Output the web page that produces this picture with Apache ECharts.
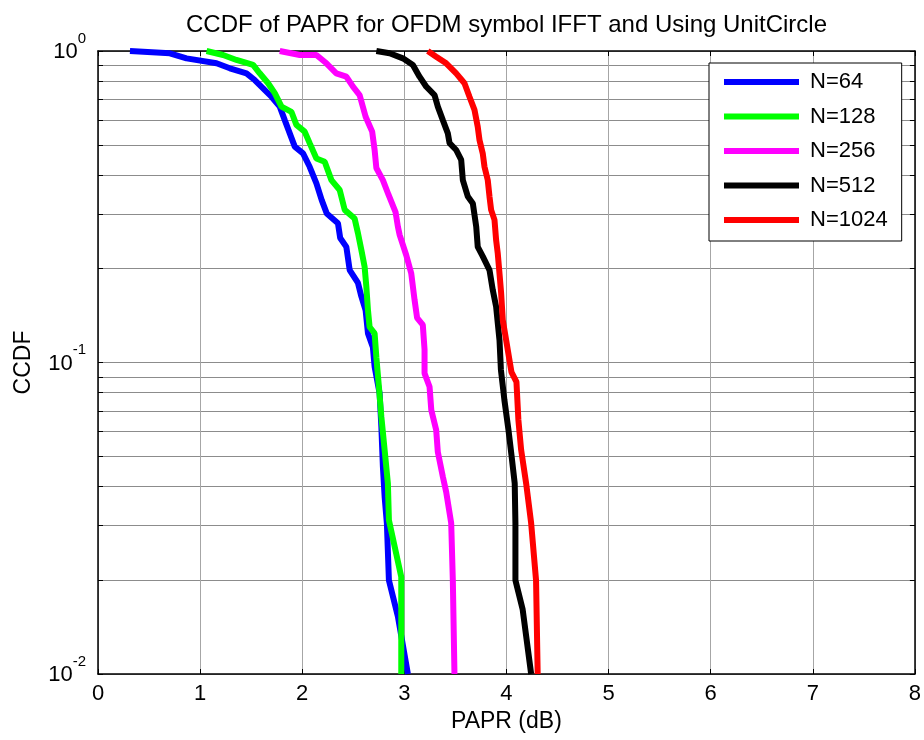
<!DOCTYPE html>
<html>
<head>
<meta charset="utf-8">
<script src="https://cdn.jsdelivr.net/npm/echarts@6/dist/echarts.min.js"></script>
<style>
html,body{margin:0;padding:0;background:#fff;}
#chart{width:924px;height:740px;}
</style>
</head>
<body>
<div id="chart"></div>
<script>
// ---- data ----
const titleText = 'CCDF of PAPR for OFDM symbol IFFT and Using UnitCircle';
const xAxisName = 'PAPR (dB)';
const yAxisName = 'CCDF';
const seriesNames = ['N=64', 'N=128', 'N=256', 'N=512', 'N=1024'];
const seriesColors = ['#0000ff', '#00ff00', '#ff00ff', '#000000', '#ff0000'];

const xTicks = [0, 1, 2, 3, 4, 5, 6, 7, 8];
const yMajorTicks = [0.01, 0.1, 1];
const yMajorExponents = ['-2', '-1', '0'];
const yMinorTicks = [0.02, 0.03, 0.04, 0.05, 0.06, 0.07, 0.08, 0.09,
                     0.2, 0.3, 0.4, 0.5, 0.6, 0.7, 0.8, 0.9];

const papr64 = [0.313, 0.704, 0.867, 1.161, 1.291, 1.454, 1.535, 1.617, 1.699, 1.780, 1.829, 1.878, 1.927, 2.008, 2.073, 2.139, 2.191, 2.240, 2.350, 2.372, 2.432, 2.465, 2.546, 2.579, 2.621, 2.644, 2.692, 2.709, 2.758, 2.775, 2.790, 2.807, 2.829, 2.849, 2.937, 3.035];
const ccdf64 = [1.0, 0.983, 0.947, 0.913, 0.880, 0.848, 0.807, 0.759, 0.713, 0.663, 0.600, 0.544, 0.493, 0.469, 0.425, 0.376, 0.332, 0.301, 0.280, 0.251, 0.235, 0.198, 0.180, 0.163, 0.147, 0.124, 0.112, 0.0970, 0.0796, 0.0622, 0.0463, 0.0371, 0.0305, 0.0200, 0.0153, 0.01];

const papr128 = [1.063, 1.225, 1.356, 1.519, 1.584, 1.666, 1.731, 1.797, 1.894, 1.943, 2.024, 2.073, 2.139, 2.220, 2.286, 2.367, 2.416, 2.513, 2.546, 2.579, 2.611, 2.628, 2.644, 2.660, 2.709, 2.726, 2.751, 2.775, 2.807, 2.839, 2.849, 2.970, 2.970];
const ccdf128 = [1.0, 0.971, 0.936, 0.902, 0.848, 0.788, 0.732, 0.663, 0.638, 0.579, 0.551, 0.506, 0.452, 0.441, 0.385, 0.358, 0.309, 0.290, 0.260, 0.230, 0.203, 0.175, 0.147, 0.130, 0.124, 0.104, 0.0836, 0.0670, 0.0524, 0.0409, 0.0312, 0.0205, 0.01];

const papr256 = [1.780, 1.976, 2.139, 2.237, 2.334, 2.432, 2.497, 2.562, 2.621, 2.685, 2.709, 2.726, 2.790, 2.846, 2.914, 2.937, 2.954, 3.019, 3.068, 3.100, 3.125, 3.181, 3.198, 3.198, 3.247, 3.264, 3.312, 3.328, 3.377, 3.410, 3.459, 3.475, 3.491];
const ccdf256 = [1.0, 0.971, 0.971, 0.913, 0.848, 0.827, 0.768, 0.722, 0.615, 0.551, 0.481, 0.421, 0.385, 0.345, 0.304, 0.273, 0.257, 0.221, 0.193, 0.159, 0.139, 0.132, 0.110, 0.0923, 0.0836, 0.0704, 0.0607, 0.0516, 0.0430, 0.0384, 0.0305, 0.0200, 0.01];

const papr512 = [2.726, 2.856, 2.986, 3.084, 3.149, 3.215, 3.296, 3.328, 3.377, 3.426, 3.443, 3.508, 3.557, 3.573, 3.622, 3.671, 3.704, 3.719, 3.768, 3.834, 3.866, 3.899, 3.932, 3.946, 3.980, 4.020, 4.049, 4.081, 4.088, 4.088, 4.159, 4.242];
const ccdf512 = [1.0, 0.983, 0.947, 0.902, 0.827, 0.768, 0.722, 0.663, 0.600, 0.544, 0.506, 0.481, 0.447, 0.385, 0.341, 0.324, 0.273, 0.235, 0.219, 0.198, 0.171, 0.151, 0.118, 0.0946, 0.0758, 0.0607, 0.0505, 0.0409, 0.0305, 0.0200, 0.0161, 0.01];

const papr1024 = [3.230, 3.312, 3.410, 3.508, 3.589, 3.638, 3.687, 3.719, 3.736, 3.768, 3.785, 3.817, 3.834, 3.850, 3.883, 3.899, 3.915, 3.932, 3.948, 3.964, 3.997, 4.029, 4.049, 4.098, 4.117, 4.144, 4.193, 4.242, 4.290, 4.306];
const ccdf1024 = [1.0, 0.959, 0.913, 0.848, 0.788, 0.713, 0.647, 0.571, 0.518, 0.469, 0.425, 0.385, 0.341, 0.309, 0.287, 0.247, 0.224, 0.193, 0.167, 0.137, 0.118, 0.102, 0.0932, 0.0866, 0.0654, 0.0524, 0.0409, 0.0305, 0.0200, 0.01];

const paprSets = [papr64, papr128, papr256, papr512, papr1024];
const ccdfSets = [ccdf64, ccdf128, ccdf256, ccdf512, ccdf1024];

// ---- chart ----
const FONT = '"Liberation Sans", Arial, Helvetica, sans-serif';
const chart = echarts.init(document.getElementById('chart'), null, {renderer: 'canvas'});

const yAllTicks = yMajorTicks.concat(yMinorTicks).sort((a, b) => a - b);

function expLabel(value) {
  for (let i = 0; i < yMajorTicks.length; i++) {
    if (Math.abs(value - yMajorTicks[i]) < yMajorTicks[i] * 1e-6) {
      return '{b|10}{s|' + yMajorExponents[i] + '}';
    }
  }
  return '';
}

const series = seriesNames.map((name, i) => ({
  name: name,
  type: 'line',
  xAxisIndex: 0,
  yAxisIndex: 0,
  data: paprSets[i].map((x, k) => [x, ccdfSets[i][k]]),
  showSymbol: false,
  symbol: 'none',
  lineStyle: {color: seriesColors[i], width: 6},
  itemStyle: {color: seriesColors[i]},
  z: 3 + i,
  clip: true
}));

const option = {
  animation: false,
  backgroundColor: '#ffffff',
  textStyle: {fontFamily: FONT},
  title: {
    text: titleText,
    left: 181,
    top: 8,
    textStyle: {fontFamily: FONT, fontSize: 24, fontWeight: 'normal', color: '#000'}
  },
  legend: {
    orient: 'vertical',
    left: 709,
    top: 63,
    padding: [8, 14, 10, 15],
    itemGap: 12.5,
    itemWidth: 75,
    itemHeight: 6,
    borderColor: '#000',
    borderWidth: 1,
    borderRadius: 0,
    backgroundColor: '#ffffff',
    z: 20,
    data: seriesNames.map((n, i) => ({name: n, icon: 'rect', itemStyle: {color: seriesColors[i]}})),
    textStyle: {fontFamily: FONT, fontSize: 22, color: '#000', lineHeight: 22, padding: [0, 0, 0, 6]}
  },
  grid: {left: 98, right: 8, top: 51, bottom: 66, containLabel: false},
  xAxis: [{
    type: 'value',
    min: 0, max: 8, interval: 1,
    position: 'bottom',
    name: xAxisName,
    nameLocation: 'middle',
    nameGap: 32,
    nameTextStyle: {fontFamily: FONT, fontSize: 23, color: '#000'},
    axisLine: {show: true, onZero: false, lineStyle: {color: '#000', width: 1.5}},
    axisTick: {show: true, inside: true, length: 5, lineStyle: {color: '#000'}},
    axisLabel: {show: true, margin: 9, fontFamily: FONT, fontSize: 22, color: '#000',
                customValues: xTicks},
    splitLine: {show: true, lineStyle: {color: '#a6a6a6', width: 1}}
  }, {
    type: 'value',
    min: 0, max: 8, interval: 1,
    position: 'top',
    axisLine: {show: true, onZero: false, lineStyle: {color: '#000', width: 1.5}},
    axisTick: {show: true, inside: true, length: 5, lineStyle: {color: '#000'}},
    axisLabel: {show: false},
    splitLine: {show: false}
  }],
  yAxis: [{
    type: 'log',
    logBase: 10,
    min: 0.01, max: 1,
    position: 'left',
    name: yAxisName,
    nameLocation: 'middle',
    nameGap: 63,
    nameRotate: 90,
    nameTextStyle: {fontFamily: FONT, fontSize: 23, color: '#000'},
    axisLine: {show: true, onZero: false, lineStyle: {color: '#000', width: 1.5}},
    axisTick: {show: true, inside: true, length: 5, lineStyle: {color: '#000'}, customValues: yAllTicks},
    axisLabel: {
      show: true, margin: 12, color: '#000',
      customValues: yMajorTicks,
      formatter: expLabel,
      padding: [0, 0, 8, 0],
      rich: {
        b: {fontFamily: FONT, fontSize: 22, color: '#000', lineHeight: 32, verticalAlign: 'bottom'},
        s: {fontFamily: FONT, fontSize: 15, color: '#000', lineHeight: 10, verticalAlign: 'top'}
      }
    },
    splitLine: {show: true, lineStyle: {color: '#8c8c8c', width: 1}}
  }, {
    type: 'log',
    logBase: 10,
    min: 0.01, max: 1,
    position: 'right',
    axisLine: {show: true, onZero: false, lineStyle: {color: '#000', width: 1.5}},
    axisTick: {show: true, inside: true, length: 5, lineStyle: {color: '#000'}, customValues: yAllTicks},
    axisLabel: {show: false},
    splitLine: {show: false}
  }],
  series: series
};
chart.setOption(option);
</script>
</body>
</html>
